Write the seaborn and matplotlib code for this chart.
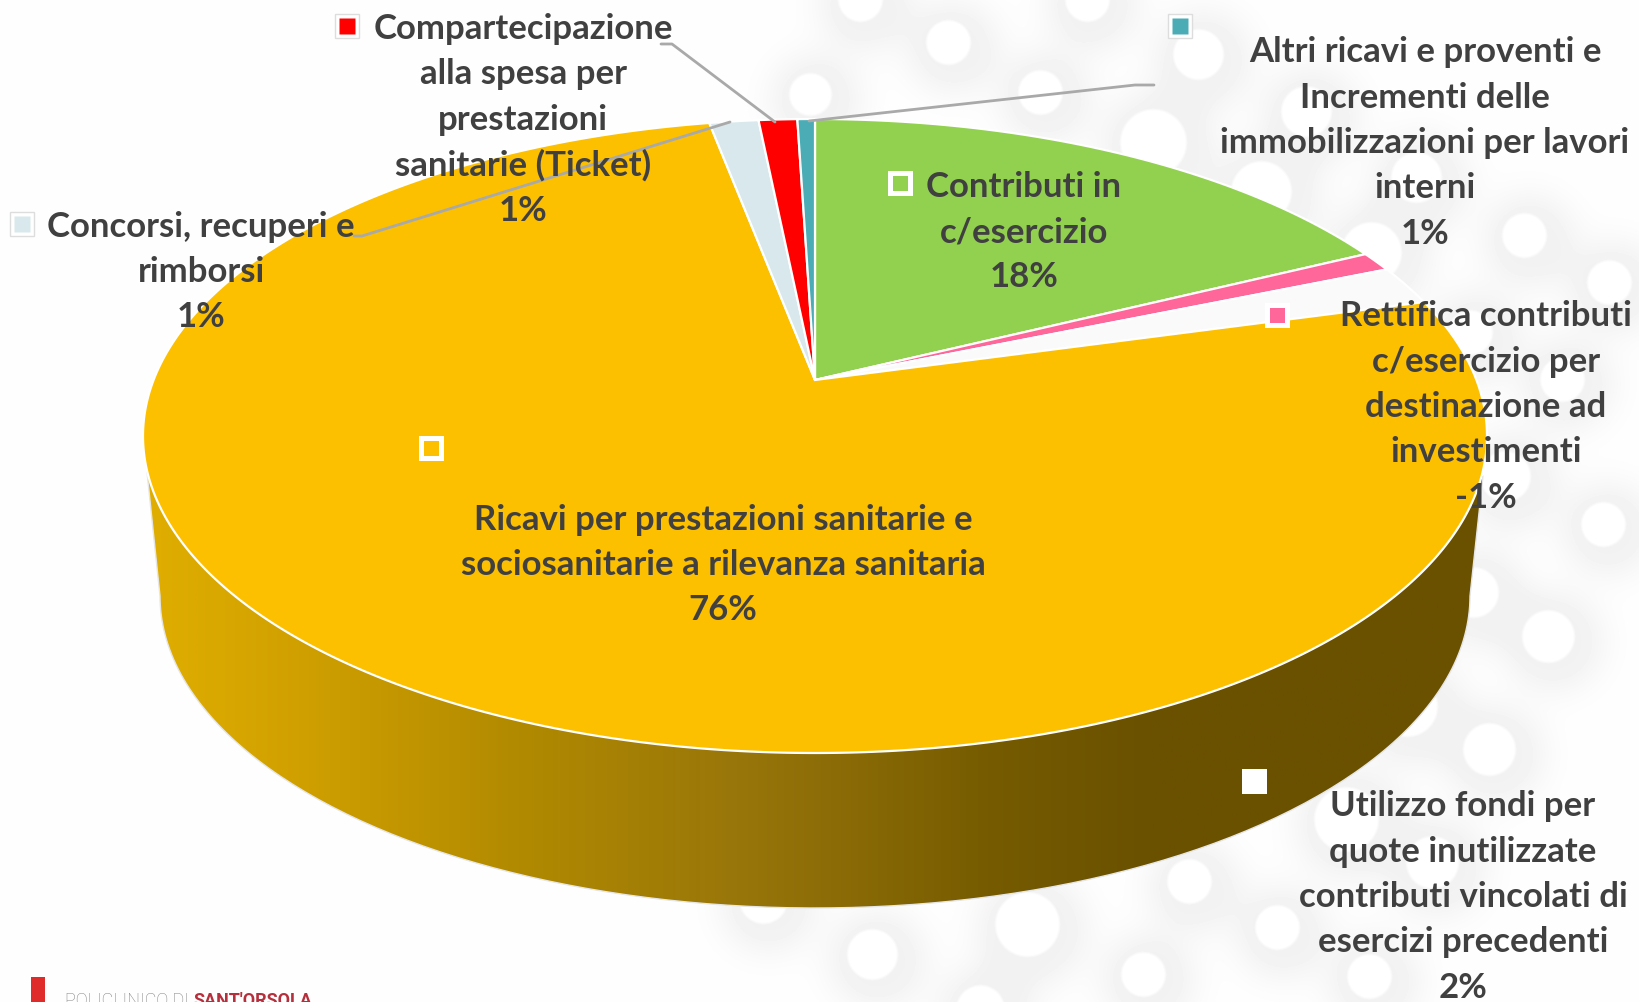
import numpy as np
import matplotlib
matplotlib.use("Agg")
import matplotlib.pyplot as plt
from matplotlib.colors import LinearSegmentedColormap
from matplotlib.patches import Polygon
from matplotlib.path import Path
from matplotlib.transforms import Transform
import seaborn as sns

categories = [
    "Contributi in\nc/esercizio",
    "Rettifica contributi\nc/esercizio per\ndestinazione ad\ninvestimenti",
    "Utilizzo fondi per\nquote inutilizzate\ncontributi vincolati di\nesercizi precedenti",
    "Ricavi per prestazioni sanitarie e\nsociosanitarie a rilevanza sanitaria",
    "Concorsi, recuperi e\nrimborsi",
    "Compartecipazione\nalla spesa per\nprestazioni\nsanitarie (Ticket)",
    "Altri ricavi e proventi e\nIncrementi delle\nimmobilizzazioni per lavori\ninterni",
]
slice_sizes = [17.7, 1.0, 2.0, 76.2, 1.4, 1.1, 0.5]
percent_labels = ["18%", "-1%", "2%", "76%", "1%", "1%", "1%"]
slice_colors = ["#92D050", "#FF6699", "#FAFAFA", "#FCC000", "#D9E8EC", "#FF0000", "#4BACB6"]
label_centres = [(1024, 232), (1486, 407), (1463, 897), (723, 565), (201, 272), (523, 120), (1425, 143)]
key_centres = [(900, 184), (1277, 316), (1254, 782), (431, 449), (22, 225), (347, 27), (1180, 27)]

bubbles = [
    (1198, 55, 25), (1087, 0, 22), (1040, 93, 22), (1153, 143, 33), (1306, 112, 25), (1261, 192, 30),
    (1416, 178, 25), (1371, 253, 30), (1524, 236, 22), (1609, 283, 22), (1562, 380, 22), (1470, 333, 22),
    (1505, 477, 25), (1603, 525, 22), (1473, 593, 25), (1548, 637, 26), (1407, 707, 30), (1489, 750, 26),
    (1346, 820, 32), (1432, 863, 26), (1189, 882, 22), (1027, 925, 32), (1277, 928, 22), (1143, 975, 22),
    (1369, 977, 22), (948, 43, 22), (810, 95, 21), (860, 0, 22), (872, 955, 25), (763, 900, 24), (980, 1010, 24),
]

W, H = 1639, 1003
sns.set_theme(style="white")
plt.rcParams["font.family"] = ["Lato", "DejaVu Sans"]
TEXT = "#404040"


class PerspectiveDisc(Transform):
    """Projects the unit pie disc onto the tilted ellipse of the 3-D pie."""
    input_dims = output_dims = 2
    is_separable = False
    has_inverse = False

    def __init__(self, cx, cy, a, b, c, k):
        super().__init__()
        self.p = (cx, cy, a, b, c, k)

    def transform_non_affine(self, values):
        cx, cy, a, b, c, k = self.p
        v = np.asarray(values, float)
        w = 1 + k * v[:, 1]
        return np.column_stack([cx + a * v[:, 0] / w, cy - (b * v[:, 1] + c) / w])

    def transform_path_non_affine(self, path):
        pts = []
        for bez, code in path.iter_bezier():
            if code == Path.MOVETO:
                pts.append(bez.control_points[:1])
            else:
                pts.append(bez(np.linspace(0, 1, 32))[1:])
        return Path(self.transform_non_affine(np.vstack(pts)), closed=True)


fig = plt.figure(figsize=(W / 100, H / 100), dpi=100, facecolor="white")
ax = fig.add_axes([0, 0, 1, 1])

wedges, _ = ax.pie(slice_sizes, colors=sns.color_palette(slice_colors), startangle=90, counterclock=False,
                   wedgeprops=dict(edgecolor="white", linewidth=1.6))
ax.set_aspect("auto")
ax.set_xlim(0, W)
ax.set_ylim(H, 0)
ax.axis("off")

# Background: white discs with soft grey halo, shadow falling slightly right and down
yy, xx = np.mgrid[0:H, 0:W]
shade = np.zeros((H, W))
disc = np.zeros((H, W))
for bx, by, r in bubbles:
    d = np.hypot(xx - bx, yy - by)
    ds = np.hypot(xx - bx - 5, yy - by - 5)
    shade += np.exp(-(np.clip(ds - r, 0, None) / 30.0) ** 2)
    disc = np.maximum(disc, np.clip((r + 1.5 - d) / 3, 0, 1))
bg = 254 - 12 * np.clip(shade, 0, 1)
bg = bg * (1 - disc) + 255 * disc
ax.imshow(bg, cmap="gray", vmin=0, vmax=255, extent=(0, W, H, 0), aspect="auto", zorder=0, interpolation="bilinear")

# Top disc
cx, cy, rx, ry = 815, 437, 672, 317
c = cy - 381
k = c / ry
persp = PerspectiveDisc(cx, cy, rx * np.sqrt(1 - k ** 2), ry, c, k)
for w in wedges:
    w.set_transform(persp + ax.transData)
    w.set_zorder(3)

# Side wall with gradient
bcx, bcy, brx, bry = 815, 597, 655, 312
t = np.linspace(np.pi, 0, 200)
side_xy = np.vstack([[147, 473], np.column_stack([bcx + brx * np.cos(t), bcy + bry * np.sin(t)]), [1483, 477]])
side = Polygon(side_xy, closed=True, transform=ax.transData, facecolor="none", edgecolor="none")
ax.add_patch(side)
side_cmap = LinearSegmentedColormap.from_list(
    "side", [(0, "#E0AE00"), (0.12, "#CF9F00"), (0.27, "#B38B00"), (0.45, "#97750A"),
             (0.63, "#765B00"), (0.75, "#6A5100"), (1, "#6A5100")])
grad = ax.imshow(np.linspace(0, 1, 512)[None, :], cmap=side_cmap, extent=(147, 1483, 920, 430),
                 aspect="auto", zorder=1, interpolation="bilinear")
grad.set_clip_path(side)
ax.set_xlim(0, W)
ax.set_ylim(H, 0)
ax.plot(side_xy[:, 0], side_xy[:, 1], color="#E6E6E6", lw=1, zorder=2)

# Leader lines
for xs, ys in [([661, 672, 775], [45, 45, 123]), ([354, 362, 730], [237, 237, 123]), ([1154, 1135, 809], [86, 86, 122])]:
    ax.plot(xs, ys, color="#A9A9A9", lw=2, zorder=4, solid_capstyle="round")

# Legend keys
for i, (kx, ky) in enumerate(key_centres):
    if i >= 4:
        ax.plot(kx, ky, marker="s", ms=17, mfc="white", mec="#DDDDDD", mew=1, zorder=5)
        ax.plot(kx, ky, marker="s", ms=11, mfc=slice_colors[i], mec="none", zorder=6)
    else:
        fc = "white" if i == 2 else slice_colors[i]
        ax.plot(kx, ky, marker="s", ms=14, mfc=fc, mec="white", mew=3.6, zorder=5)

# Labels
for cat, pct, (lx, ly) in zip(categories, percent_labels, label_centres):
    ax.text(lx, ly, f"{cat}\n{pct}", ha="center", va="center", ma="center", fontsize=25, fontweight="bold",
            color=TEXT, linespacing=1.51, zorder=7)

# Logo, cropped by the lower edge
ax.fill_between([31, 45], 978, 1010, color="#E02B2B", lw=0, zorder=2)
ax.text(65, 992, "POLICLINICO DI", family="Roboto", fontweight="light", fontsize=13, color="#808080", va="top", zorder=2)
ax.text(193, 992, "SANT'ORSOLA", family="Roboto", fontweight="bold", fontsize=13, color="#B5303C", va="top", zorder=2)

fig.savefig("out.png", dpi=100)
